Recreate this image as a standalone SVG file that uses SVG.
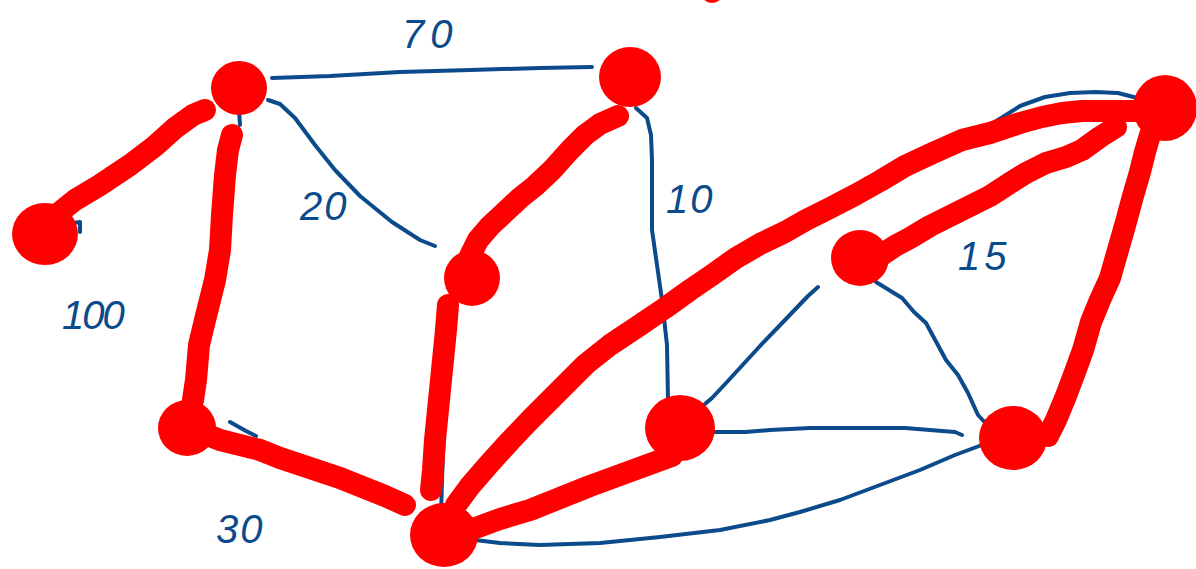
<svg xmlns="http://www.w3.org/2000/svg" width="1196" height="569" viewBox="0 0 1196 569">
<style>
.b{fill:none;stroke:#0b4a8b;stroke-width:4;stroke-linecap:round;stroke-linejoin:round}
.r{fill:none;stroke:#ff0000;stroke-width:22;stroke-linecap:round;stroke-linejoin:round}
.n{fill:#ff0000}
.t{font-family:"Liberation Sans",Arial,sans-serif;font-size:40px;fill:#0b4a8b;font-style:italic}
</style>
<rect width="1196" height="569" fill="#ffffff"/>
<g id="connectors">
<polyline class="b" points="272,78 330,76 400,72 470,70 540,68 592,67"/>
<polyline class="b" points="268,100 280,104 295,118 315,145 335,170 360,196 392,222 420,240 435,246"/>
<polyline class="b" points="60,225 80,222 80,232"/>
<polyline class="b" points="238,95 240,125"/>
<polyline class="b" points="230,422 246,431 256,436"/>
<polyline class="b" points="448,300 447,340 446,380 444,430 442,480 441,515"/>
<polyline class="b" points="636,108 647,118 651,135 652,160 652,230 657,265 662,300 667,345 668,400"/>
<polyline class="b" points="876,282 902,298 914,312 926,323 933,336 946,360 958,375 968,393 978,415 990,428"/>
<polyline class="b" points="698,410 712,398 727,382 760,346 785,320 808,296 818,287"/>
<polyline class="b" points="715,432 745,432 770,430 810,428 860,428 905,428 930,430 955,432 962,435"/>
<polyline class="b" points="475,540 500,543 540,545 600,543 660,537 720,530 770,520 800,512 840,500 880,485 920,470 955,455 990,442"/>
<polyline class="b" points="990,125 1020,106 1045,97 1070,93 1095,92 1118,93 1145,100"/>
<polyline class="b" points="1140,110 1142,124 1150,132"/>
<polyline class="r" points="60,212 75,200 100,185 130,165 155,146 175,128 193,115 205,110"/>
<polyline class="r" points="232,135 228,150 225,175 222,215 220,250 215,280 210,300 205,320 199,345 196,380 193,400"/>
<polyline class="r" points="200,432 220,440 260,450 280,458 310,468 340,478 360,486 385,496 405,505"/>
<polyline class="r" points="618,116 600,124 585,135 570,150 552,170 535,186 520,198 505,212 490,226 478,240 470,256"/>
<polyline class="r" points="448,305 446,330 444,350 441,380 438,410 435,440 433,470 431,490"/>
<polyline class="r" points="456,505 470,486 490,463 510,441 530,420 550,400 566,384 586,364 610,345 640,325 665,308 690,290 712,275 736,258 760,244 785,232 806,220 830,208 855,195 880,181 905,166 935,152 962,140 990,133 1020,123 1042,117 1062,113 1082,111 1102,111 1145,111"/>
<polyline class="r" points="470,530 500,519 530,510 560,498 590,486 620,475 650,464 672,456"/>
<polyline class="r" points="880,256 895,246 910,238 930,226 950,216 970,206 990,196 1010,183 1026,173 1046,163 1066,157 1082,150 1100,137 1116,127"/>
<polyline class="r" points="1150,135 1145,152 1140,172 1133,196 1126,222 1118,250 1110,278 1100,300 1091,322 1083,350 1075,372 1066,396 1056,420 1048,436"/>
</g>
<g id="node-A"><ellipse class="n" cx="45" cy="234" rx="33" ry="31"/></g>
<g id="node-B"><ellipse class="n" cx="239" cy="88" rx="28" ry="27"/></g>
<g id="node-C"><ellipse class="n" cx="630" cy="77" rx="31" ry="30"/></g>
<g id="node-D"><ellipse class="n" cx="472" cy="278" rx="28" ry="28"/></g>
<g id="node-E"><ellipse class="n" cx="1165" cy="108" rx="32" ry="33"/></g>
<g id="node-F"><ellipse class="n" cx="860" cy="258" rx="29" ry="28"/></g>
<g id="node-G"><ellipse class="n" cx="187" cy="428" rx="29" ry="28"/></g>
<g id="node-H"><ellipse class="n" cx="444" cy="535" rx="34" ry="32"/></g>
<g id="node-I"><ellipse class="n" cx="680" cy="428" rx="35" ry="33"/></g>
<g id="node-J"><ellipse class="n" cx="1013" cy="438" rx="34" ry="32"/></g>
<g id="mark"><ellipse class="n" cx="712" cy="-4" rx="9" ry="7"/></g>
<g id="labels">
<text class="t" x="402" y="48" letter-spacing="6">70</text>
<text class="t" x="300" y="220" letter-spacing="2">20</text>
<text class="t" x="666" y="213" letter-spacing="2">10</text>
<text class="t" x="958" y="270" letter-spacing="4">15</text>
<text class="t" x="62" y="329" letter-spacing="-2">100</text>
<text class="t" x="216" y="543" letter-spacing="2">30</text>
</g>
</svg>
